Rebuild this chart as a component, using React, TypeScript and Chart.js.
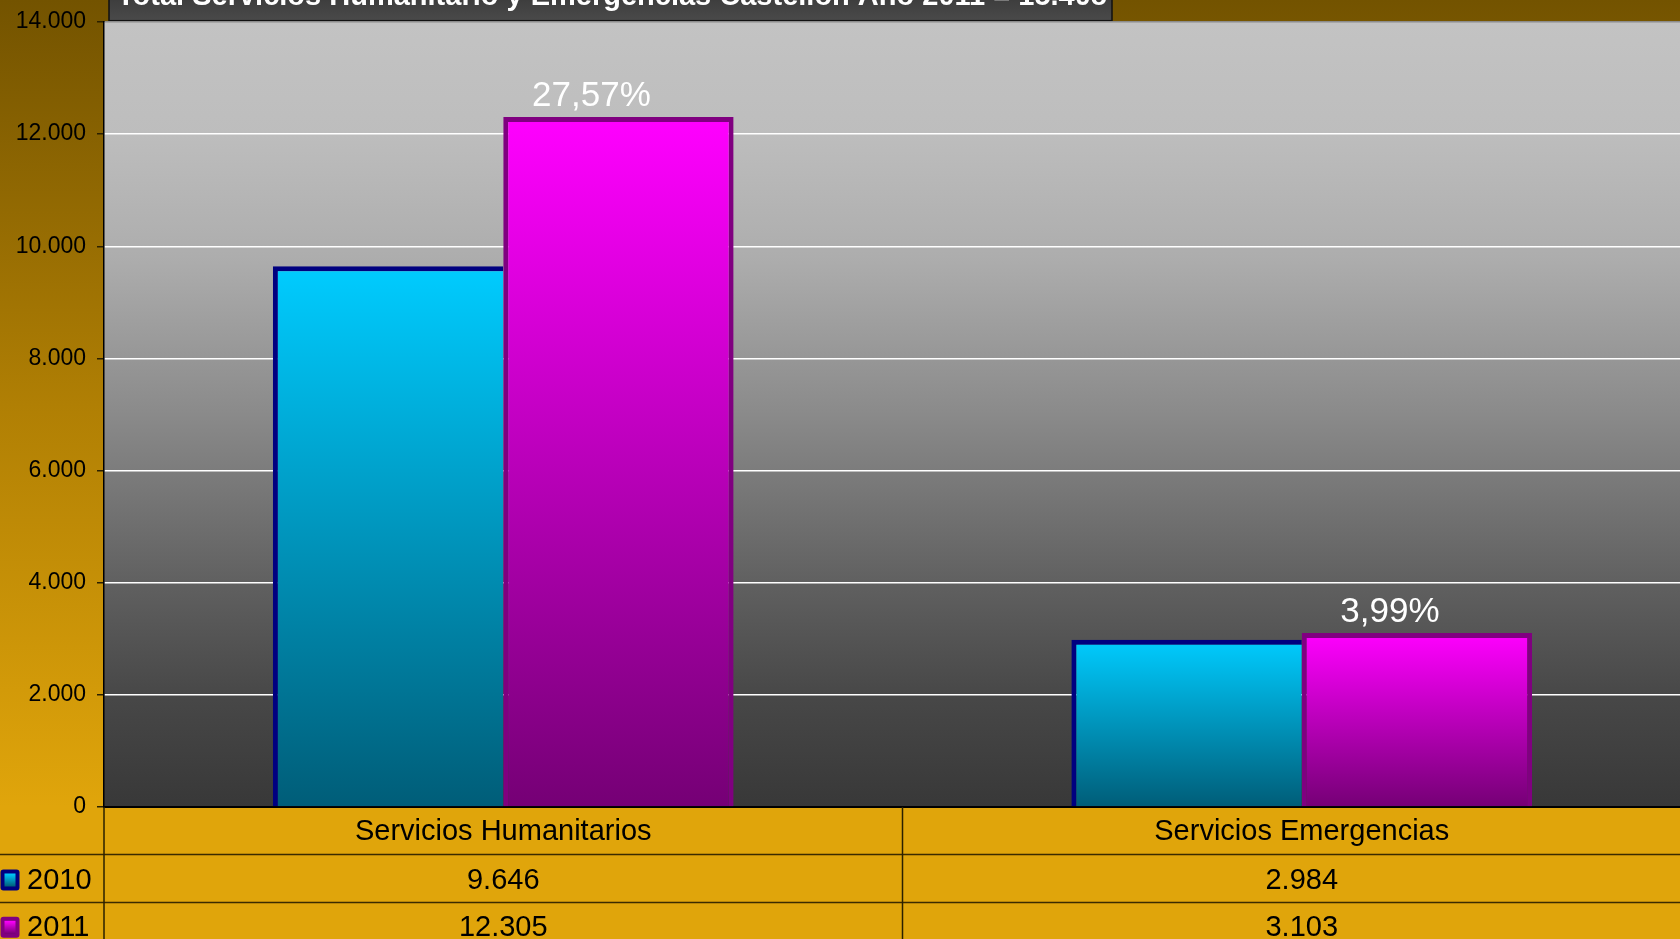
import React, { useEffect, useRef } from 'react';
import { Chart, registerables } from 'chart.js';

Chart.register(...registerables);

// ---- data ----
const categories = ['Servicios Humanitarios', 'Servicios Emergencias'];
const seriesLabels = ['2010', '2011'];
const values2010 = [9646, 2984];
const values2011 = [12305, 3103];
const yMin = 0;
const yMax = 14000;
const yStep = 2000;
const chartTitle = 'Total Servicios Humanitario y Emergencias Castellón Año 2011 = 15.408';

// ---- layout / style ----
const FONT = "'Liberation Sans', Arial, Helvetica, sans-serif";
const CANVAS_W = 1701;
const CANVAS_H = 1009;
const OFFSET_TOP = 60;

const fmt = (v: number) => String(Math.round(v)).replace(/\B(?=(\d{3})+(?!\d))/g, '.');
const pct = (a: number, b: number) => (((b - a) / a) * 100).toFixed(2).replace('.', ',') + '%';

const seriesStyles = [
  { top: '#00ccff', bottom: '#005d78', border: '#000080' },
  { top: '#ff00ff', bottom: '#750075', border: '#800080' },
];

function barGradient(idx: number) {
  return (ctx: any) => {
    const chart = ctx.chart;
    const y = chart.scales && chart.scales.y;
    const st = seriesStyles[idx];
    if (!y || ctx.type !== 'data' || typeof ctx.raw !== 'number') return st.top;
    const top = y.getPixelForValue(ctx.raw);
    const bottom = y.getPixelForValue(0);
    if (!isFinite(top) || !isFinite(bottom) || top === bottom) return st.top;
    const g = chart.ctx.createLinearGradient(0, top, 0, bottom);
    g.addColorStop(0, st.top);
    g.addColorStop(1, st.bottom);
    return g;
  };
}

function roundRect(ctx: CanvasRenderingContext2D, x: number, y: number, w: number, h: number, r: number) {
  ctx.beginPath();
  ctx.moveTo(x + r, y);
  ctx.lineTo(x + w - r, y);
  ctx.quadraticCurveTo(x + w, y, x + w, y + r);
  ctx.lineTo(x + w, y + h - r);
  ctx.quadraticCurveTo(x + w, y + h, x + w - r, y + h);
  ctx.lineTo(x + r, y + h);
  ctx.quadraticCurveTo(x, y + h, x, y + h - r);
  ctx.lineTo(x, y + r);
  ctx.quadraticCurveTo(x, y, x + r, y);
  ctx.closePath();
}

const decorPlugin = {
  id: 'decor',
  beforeDraw(chart: any) {
    const { ctx, width, height, chartArea: ca } = chart;
    ctx.save();
    // outer background
    const og = ctx.createLinearGradient(0, OFFSET_TOP, 0, ca.bottom);
    og.addColorStop(0, '#735300');
    og.addColorStop(0.5, '#b07f04');
    og.addColorStop(1, '#e0a50b');
    ctx.fillStyle = og;
    ctx.fillRect(0, 0, width, ca.bottom);
    ctx.fillStyle = '#e0a50b';
    ctx.fillRect(0, ca.bottom, width, height - ca.bottom);

    // plot area
    const pg = ctx.createLinearGradient(0, ca.top, 0, ca.bottom);
    pg.addColorStop(0, '#c3c3c3');
    pg.addColorStop(0.144, '#bdbdbd');
    pg.addColorStop(0.3, '#adadad');
    pg.addColorStop(0.5, '#8a8a8a');
    pg.addColorStop(0.71, '#616161');
    pg.addColorStop(0.855, '#484848');
    pg.addColorStop(1, '#383838');
    ctx.fillStyle = pg;
    ctx.fillRect(ca.left, ca.top, ca.right - ca.left, ca.bottom - ca.top);

    // title box (partly above the visible page)
    const bx = 109, by = 20, bw = 1003, bh = ca.top - 1.3 - by;
    const tg = ctx.createLinearGradient(0, by, 0, by + bh);
    tg.addColorStop(0, '#262626');
    tg.addColorStop(1, '#4a4a4a');
    ctx.fillStyle = tg;
    ctx.fillRect(bx, by, bw, bh);
    ctx.strokeStyle = '#111111';
    ctx.lineWidth = 1.5;
    ctx.strokeRect(bx, by, bw, bh);
    ctx.fillStyle = '#ffffff';
    ctx.font = `bold 29px ${FONT}`;
    ctx.textAlign = 'center';
    ctx.textBaseline = 'alphabetic';
    ctx.fillText(chartTitle, 612, OFFSET_TOP + 5);
    ctx.restore();
  },
  afterDatasetsDraw(chart: any) {
    const { ctx } = chart;
    const meta = chart.getDatasetMeta(1);
    ctx.save();
    ctx.fillStyle = '#ffffff';
    ctx.font = `35px ${FONT}`;
    ctx.textAlign = 'center';
    ctx.textBaseline = 'alphabetic';
    meta.data.forEach((bar: any, j: number) => {
      ctx.fillText(pct(values2010[j], values2011[j]), bar.x - 27, bar.y - 11);
    });
    ctx.restore();
  },
  afterDraw(chart: any) {
    const { ctx, width, height, chartArea: ca } = chart;
    const xs = chart.scales.x;
    const rowH = (xs.bottom - ca.bottom) / 3;
    ctx.save();
    // horizontal lines
    ctx.strokeStyle = '#3a2b00';
    ctx.lineWidth = 1.5;
    for (let k = 1; k <= 2; k++) {
      const y = Math.round(ca.bottom + rowH * k) + 0.5;
      ctx.beginPath();
      ctx.moveTo(0, y);
      ctx.lineTo(width, y);
      ctx.stroke();
    }
    // vertical lines
    ctx.strokeStyle = '#2a2000';
    const vx = [ca.left];
    for (let j = 0; j < categories.length - 1; j++) {
      vx.push((xs.getPixelForValue(j) + xs.getPixelForValue(j + 1)) / 2);
    }
    vx.forEach((x) => {
      ctx.beginPath();
      ctx.moveTo(x, ca.bottom);
      ctx.lineTo(x, height);
      ctx.stroke();
    });
    // rows
    const rows = [values2010, values2011];
    rows.forEach((vals, i) => {
      const yc = ca.bottom + rowH * (i + 1) + rowH / 2 + 2.5;
      const st = seriesStyles[i];
      // key
      const kx = 0.5, ky = yc - 11, kw = 19, kh = 21;
      roundRect(ctx, kx, ky, kw, kh, 3);
      ctx.fillStyle = st.border;
      ctx.fill();
      const kg = ctx.createLinearGradient(0, ky + 4, 0, ky + kh - 4);
      kg.addColorStop(0, st.top);
      kg.addColorStop(1, st.bottom);
      ctx.fillStyle = kg;
      ctx.fillRect(kx + 4, ky + 4, kw - 8, kh - 8);
      // label
      ctx.fillStyle = '#000000';
      ctx.font = `29px ${FONT}`;
      ctx.textAlign = 'left';
      ctx.textBaseline = 'middle';
      ctx.fillText(seriesLabels[i], 27, yc);
      ctx.textAlign = 'center';
      vals.forEach((v, j) => {
        ctx.fillText(fmt(v), xs.getPixelForValue(j), yc);
      });
    });
    ctx.restore();
  },
};

export default function App() {
  const ref = useRef<HTMLCanvasElement | null>(null);

  useEffect(() => {
    if (!ref.current) return;
    const chart = new Chart(ref.current, {
      type: 'bar',
      data: {
        labels: categories,
        datasets: [
          {
            label: seriesLabels[0],
            data: values2010,
            backgroundColor: barGradient(0),
            borderColor: seriesStyles[0].border,
            borderWidth: { top: 5, left: 5, right: 0, bottom: 0 },
            borderSkipped: false,
          },
          {
            label: seriesLabels[1],
            data: values2011,
            backgroundColor: barGradient(1),
            borderColor: seriesStyles[1].border,
            borderWidth: { top: 5, left: 5, right: 5, bottom: 0 },
            borderSkipped: false,
          },
        ],
      } as any,
      options: {
        responsive: false,
        animation: false,
        devicePixelRatio: 1,
        layout: { padding: { top: OFFSET_TOP + 22, left: 0, right: 0, bottom: 0 } },
        datasets: { bar: { categoryPercentage: 0.577, barPercentage: 1 } },
        plugins: {
          legend: { display: false },
          title: { display: false },
          tooltip: { enabled: false },
        },
        scales: {
          x: {
            grid: { display: false, drawTicks: false },
            border: { display: true, color: '#000000', width: 2 },
            ticks: {
              color: '#000000',
              font: { size: 29, family: FONT },
              padding: 8,
              maxRotation: 0,
              autoSkip: false,
            },
            afterFit(s: any) {
              s.height = 142;
            },
          },
          y: {
            min: yMin,
            max: yMax,
            ticks: {
              stepSize: yStep,
              color: '#000000',
              font: { size: 23, family: FONT },
              padding: 11,
              callback: (v: any) => fmt(Number(v)),
            },
            grid: {
              color: (c: any) => {
                const v = c.tick && c.tick.value;
                if (v === yMin) return 'rgba(0,0,0,0)';
                if (v === yMax) return '#8c8c8c';
                return '#ffffff';
              },
              lineWidth: 1.5,
              tickLength: 7,
              tickColor: '#2b2000',
              tickWidth: 1.5,
            },
            border: { display: true, color: '#000000', width: 1.5 },
            afterFit(s: any) {
              s.width = 104;
            },
          },
        },
      } as any,
      plugins: [decorPlugin],
    });
    return () => chart.destroy();
  }, []);

  return (
    <div
      style={{
        position: 'fixed',
        left: 0,
        top: 0,
        width: 1680,
        height: 939,
        overflow: 'hidden',
        background: '#e0a50b',
      }}
    >
      <canvas
        ref={ref}
        width={CANVAS_W}
        height={CANVAS_H}
        style={{ position: 'absolute', left: 0, top: -OFFSET_TOP, width: CANVAS_W, height: CANVAS_H, display: 'block' }}
      />
    </div>
  );
}
